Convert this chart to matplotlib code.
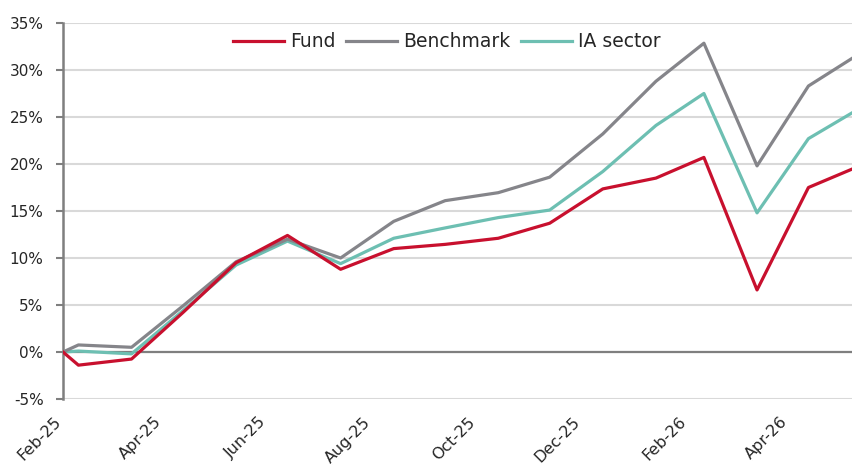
import matplotlib
matplotlib.use("Agg")
import matplotlib.pyplot as plt
import matplotlib.transforms as mtransforms
from datetime import date

# --- Data (cumulative performance, %) ---
dates = [date(2025, 2, 19), date(2025, 2, 28), date(2025, 3, 31), date(2025, 4, 30),
         date(2025, 5, 31), date(2025, 6, 30), date(2025, 7, 31), date(2025, 8, 31),
         date(2025, 9, 30), date(2025, 10, 31), date(2025, 11, 30), date(2025, 12, 31),
         date(2026, 1, 31), date(2026, 2, 28), date(2026, 3, 31), date(2026, 4, 30),
         date(2026, 5, 26)]
fund = [0.0, -1.4, -0.75, 4.2, 9.5, 12.4, 8.8, 11.0, 11.45, 12.1, 13.7, 17.35,
        18.5, 20.7, 6.6, 17.5, 19.5]
benchmark = [0.0, 0.75, 0.5, 4.9, 9.6, 12.0, 10.0, 13.9, 16.1, 16.95, 18.6, 23.2,
             28.8, 32.85, 19.8, 28.3, 31.3]
ia_sector = [0.0, 0.1, -0.2, 4.4, 9.25, 11.8, 9.4, 12.1, 13.2, 14.3, 15.1, 19.2,
             24.1, 27.5, 14.8, 22.7, 25.5]

tick_dates = [date(2025, 2, 19), date(2025, 4, 19), date(2025, 6, 19), date(2025, 8, 19),
              date(2025, 10, 19), date(2025, 12, 19), date(2026, 2, 19), date(2026, 4, 19)]
tick_labels = ["Feb-25", "Apr-25", "Jun-25", "Aug-25", "Oct-25", "Dec-25", "Feb-26", "Apr-26"]
y_ticks = [-5, 0, 5, 10, 15, 20, 25, 30, 35]

RED = "#C8102E"
GREY = "#85858A"
TEAL = "#6DBFB2"
AXIS = "#7F7F7F"
GRID = "#D9D9D9"
TEXT = "#262626"

plt.rcParams["font.family"] = ["DejaVu Sans"]

fig = plt.figure(figsize=(8.53, 4.66), dpi=100)
ax = fig.add_axes([63 / 853, 1 - 399 / 466, 1 - 63 / 853, (399 - 23) / 466])

ax.plot(dates, fund, color=RED, lw=2.3, label="Fund", zorder=5)
ax.plot(dates, benchmark, color=GREY, lw=2.3, label="Benchmark", zorder=4)
ax.plot(dates, ia_sector, color=TEAL, lw=2.3, label="IA sector", zorder=3)

ax.set_xlim(dates[0], dates[-1])
ax.set_ylim(-5, 35)
ax.set_yticks(y_ticks)
ax.set_yticklabels([f"{v}%" for v in y_ticks], color=TEXT, fontsize=11)
ax.set_xticks(tick_dates)
ax.set_xticklabels(tick_labels, rotation=45, ha="right", rotation_mode="anchor",
                   color=TEXT, fontsize=11.5)

ax.grid(axis="y", color=GRID, lw=1.5, zorder=0)
ax.axhline(0, color=AXIS, lw=1.6, zorder=2)

for side in ["top", "right", "bottom"]:
    ax.spines[side].set_visible(False)
ax.spines["left"].set_color(AXIS)
ax.spines["left"].set_linewidth(1.8)
ax.tick_params(axis="y", length=5, width=1.5, color=AXIS, pad=9)
ax.tick_params(axis="x", length=0, pad=11)

# nudge rotated date labels left so their end sits on the tick (after tick_params,
# which would reset the transforms)
shift = mtransforms.ScaledTranslation(-10 / 100, 0, fig.dpi_scale_trans)
for lbl in ax.get_xticklabels():
    lbl.set_transform(lbl.get_transform() + shift)

leg = ax.legend(loc="center", bbox_to_anchor=(0.486, 0.95), ncol=3, frameon=False,
                handlelength=2.7, handletextpad=0.32, columnspacing=0.59, fontsize=13.5)
for t in leg.get_texts():
    t.set_color(TEXT)

fig.savefig("out.png", dpi=100)
